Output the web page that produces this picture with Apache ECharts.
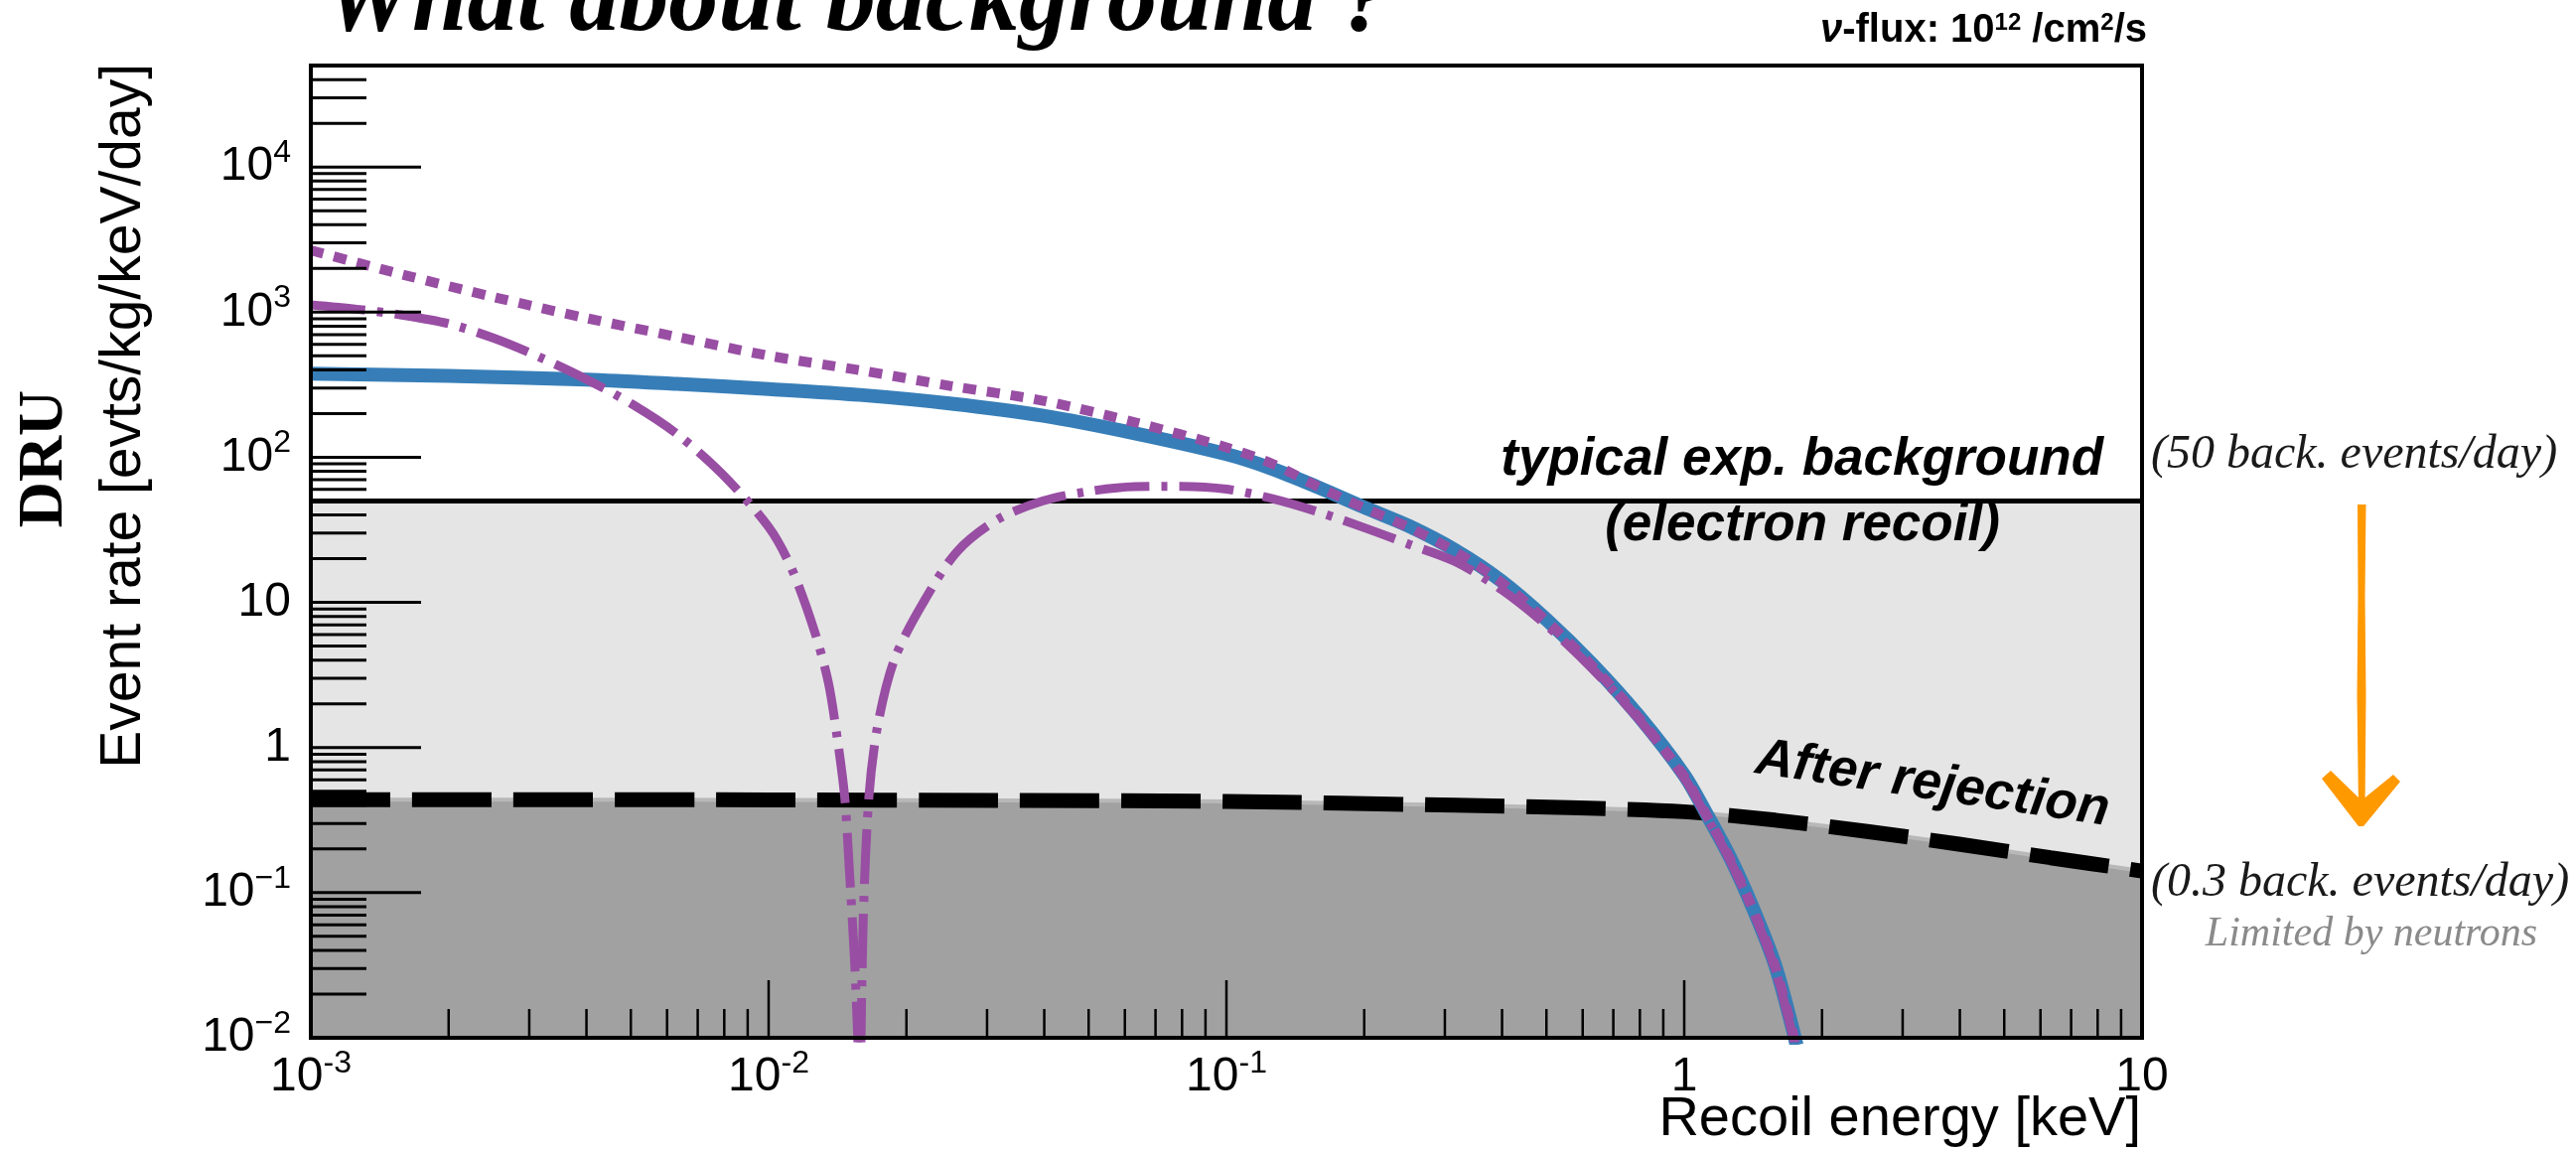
<!DOCTYPE html>
<html>
<head>
<meta charset="utf-8">
<title>What about background ?</title>
<script src="https://cdn.jsdelivr.net/npm/echarts/dist/echarts.min.js"></script>
<style>
  html, body { margin: 0; padding: 0; background: #fff; }
  #main { width: 2594px; height: 1160px; }
</style>
</head>
<body>
<div id="main"></div>
<script>
// recoil energy [keV] / event rate [evts/kg/keV/day]

// blue solid: standard spectrum
var blueE    = [0.001, 0.002, 0.004, 0.0063, 0.01, 0.0158, 0.0251, 0.0398, 0.0631, 0.1, 0.126, 0.158, 0.2, 0.251, 0.316, 0.398, 0.501, 0.631, 0.794, 1.0, 1.12, 1.26, 1.41, 1.58, 1.76];
var blueRate = [377, 363, 343, 320, 295, 269, 234, 193, 146, 105, 83.2, 62.4, 45.2, 33.5, 22.9, 14.1, 7.59, 3.72, 1.66, 0.646, 0.347, 0.174, 0.0794, 0.0316, 0.0089];

// purple dotted: total
var dotE    = [0.001, 0.00158, 0.00251, 0.00398, 0.0063, 0.01, 0.0158, 0.0251, 0.0398, 0.0631, 0.1, 0.126, 0.158, 0.2, 0.251, 0.316, 0.398, 0.501, 0.631, 0.794, 1.0, 1.12, 1.26, 1.41, 1.58, 1.76];
var dotRate = [2670, 1820, 1270, 912, 676, 501, 398, 309, 245, 174, 117, 90.2, 63.1, 44.7, 32.7, 22.4, 13.8, 7.41, 3.63, 1.62, 0.631, 0.339, 0.170, 0.0776, 0.0309, 0.0085];

// purple dash-dot: interference term, left and right of its zero
var ddLeftE    = [0.001, 0.00126, 0.00158, 0.002, 0.00251, 0.00316, 0.00398, 0.00501, 0.0063, 0.00794, 0.01, 0.0112, 0.0126, 0.0135, 0.0141, 0.01466, 0.015, 0.01542, 0.0157];
var ddLeftRate = [1122, 1047, 955, 832, 661, 490, 347, 234, 145, 75.9, 33.1, 17.4, 6.31, 2.82, 1.20, 0.457, 0.148, 0.0324, 0.0079];
var ddRightE    = [0.0159, 0.0161, 0.01656, 0.0173, 0.01884, 0.02178, 0.0258, 0.0316, 0.0398, 0.0501, 0.0631, 0.0794, 0.1, 0.126, 0.158, 0.2, 0.251, 0.316, 0.398, 0.501, 0.631, 0.794, 1.0, 1.12, 1.26, 1.41, 1.58, 1.76];
var ddRightRate = [0.0079, 0.0692, 0.457, 1.41, 4.07, 10.0, 22.4, 37.2, 50.1, 58.2, 62.8, 63.1, 60.3, 51.9, 42.2, 32.7, 25.1, 19.1, 12.3, 6.92, 3.47, 1.58, 0.617, 0.331, 0.166, 0.0759, 0.0295, 0.0081];

// backgrounds
var typicalE    = [0.001, 10];
var typicalRate = [50, 50];
var rejE    = [0.001, 0.01, 0.0316, 0.1, 0.316, 0.562, 1.0, 1.58, 2.51, 3.98, 6.31, 10];
var rejRate = [0.437, 0.436, 0.432, 0.425, 0.400, 0.385, 0.361, 0.316, 0.264, 0.216, 0.174, 0.141];

// axes
var xTickValues = [0.001, 0.01, 0.1, 1, 10];
var xTickLabels = ['10{s|-3}', '10{s|-2}', '10{s|-1}', '1', '10'];
var yTickValues = [0.01, 0.1, 1, 10, 100, 1000, 10000];
var yTickLabels = ['10{s|\u22122}', '10{s|\u22121}', '1', '10', '10{s|2}', '10{s|3}', '10{s|4}'];

var X_MIN = 0.001, X_MAX = 10, Y_MIN = 0.01, Y_MAX = 50000;

var SANS = "'Liberation Sans', Arial, Helvetica, sans-serif";
var SERIF = "'Liberation Serif', 'Times New Roman', serif";
var BLUE = '#377eb8', PURPLE = '#984ea3';

function pairs(xs, ys) {
  return xs.map(function (x, i) { return [x, ys[i]]; });
}

// minor ticks 2..9 x each decade, below limit
function minorTicks(majors, limit) {
  var out = [];
  majors.forEach(function (m) {
    for (var k = 2; k <= 9; k++) {
      var v = m * k;
      if (v < limit * 0.999) out.push(v);
    }
  });
  return out;
}

function pickLabel(values, labels, v) {
  for (var i = 0; i < values.length; i++) {
    if (Math.abs(Math.log10(v) - Math.log10(values[i])) < 1e-6) return labels[i];
  }
  return '';
}

var yTickData = yTickValues.map(function (v) { return [X_MIN, v, 1]; })
  .concat(minorTicks(yTickValues, Y_MAX).map(function (v) { return [X_MIN, v, 0]; }));
var xTickData = xTickValues.map(function (v) { return [v, Y_MIN, 1]; })
  .concat(minorTicks(xTickValues, X_MAX).map(function (v) { return [v, Y_MIN, 0]; }));

function tickSeries(data, dir) {
  return {
    type: 'custom',
    silent: true,
    clip: false,
    z: 20,
    dimensions: ['x', 'y', 'major'],
    encode: { x: 0, y: 1 },
    data: data,
    renderItem: function (params, api) {
      var p = api.coord([api.value(0), api.value(1)]);
      var major = api.value(2) === 1;
      var shape;
      if (dir === 'y') {
        var ly = major ? 111 : 56;
        shape = { x1: p[0], y1: p[1], x2: p[0] + ly, y2: p[1] };
      } else {
        var lx = major ? 58 : 29;
        shape = { x1: p[0], y1: p[1], x2: p[0], y2: p[1] - lx };
      }
      return {
        type: 'line',
        shape: shape,
        style: { stroke: '#000', lineWidth: dir === 'y' ? 3 : 2.5 }
      };
    }
  };
}

function curve(name, xs, ys, color, width, type, z) {
  return {
    name: name,
    type: 'line',
    data: pairs(xs, ys),
    symbol: 'none',
    smooth: 0.3,
    z: z,
    lineStyle: { color: color, width: width, type: type, cap: 'butt' }
  };
}

var tickLabelRich = {
  s: { fontSize: 32, lineHeight: 32, fontFamily: SANS, color: '#000', verticalAlign: 'top' }
};

var chart = echarts.init(document.getElementById('main'), null, { renderer: 'canvas' });

var option = {
  animation: false,
  backgroundColor: '#fff',
  grid: {
    left: 313, right: 437, top: 66, bottom: 115,
    show: true, borderColor: '#000', borderWidth: 4, z: 30
  },
  xAxis: {
    type: 'log', logBase: 10, min: X_MIN, max: X_MAX,
    axisLine: { show: false },
    axisTick: { show: false },
    splitLine: { show: false },
    axisLabel: {
      margin: 10,
      fontSize: 48, lineHeight: 60, fontFamily: SANS, color: '#000',
      rich: tickLabelRich,
      formatter: function (v) { return pickLabel(xTickValues, xTickLabels, v); }
    }
  },
  yAxis: {
    type: 'log', logBase: 10, min: Y_MIN, max: Y_MAX,
    axisLine: { show: false },
    axisTick: { show: false },
    splitLine: { show: false },
    axisLabel: {
      margin: 20,
      fontSize: 48, lineHeight: 60, fontFamily: SANS, color: '#000',
      rich: tickLabelRich,
      formatter: function (v) { return pickLabel(yTickValues, yTickLabels, v); }
    }
  },
  series: [
    {
      name: 'typical exp. background',
      type: 'line',
      data: pairs(typicalE, typicalRate),
      symbol: 'none',
      z: 1,
      lineStyle: { color: '#000', width: 5 },
      areaStyle: { color: '#e5e5e5', origin: 'start', opacity: 1 }
    },
    {
      name: 'after rejection fill',
      type: 'line',
      data: pairs(rejE, rejRate),
      symbol: 'none',
      smooth: 0.3,
      z: 2,
      lineStyle: { color: '#b8b8b8', width: 4 },
      areaStyle: { color: '#a1a1a1', origin: 'start', opacity: 1 }
    },
    curve('After rejection', rejE, rejRate, '#000', 15, [80, 22], 3),
    curve('standard', blueE, blueRate, BLUE, 14, 'solid', 5),
    curve('total', dotE, dotRate, PURPLE, 10, [13, 11], 6),
    curve('interference', ddLeftE, ddLeftRate, PURPLE, 9, [55, 12, 6, 12], 6),
    curve('interference', ddRightE, ddRightRate, PURPLE, 9, [55, 12, 6, 12], 6),
    tickSeries(yTickData, 'y'),
    tickSeries(xTickData, 'x')
  ],
  graphic: [
    // title, cut at the top edge like the slide
    { type: 'text', x: 326, y: 4, z: 100, silent: true,
      style: { text: 'What about background ?', fill: '#000', align: 'left', verticalAlign: 'middle',
               fontFamily: SERIF, fontSize: 100, fontWeight: 'bold', fontStyle: 'italic' } },
    { type: 'text', x: 2162, y: 31, z: 100, silent: true,
      style: { text: '{n|\u03bd}-flux: 10{s|12} /cm{s|2}/s', fill: '#000', align: 'right', verticalAlign: 'middle',
               fontFamily: SANS, fontSize: 40, fontWeight: 'bold', lineHeight: 40,
               rich: {
                 n: { fontFamily: SANS, fontSize: 40, fontWeight: 'bold', fontStyle: 'italic', fill: '#000' },
                 s: { fontFamily: SANS, fontSize: 24, fontWeight: 'bold', lineHeight: 24, verticalAlign: 'top', fill: '#000' }
               } } },
    // axis titles
    { type: 'text', x: 125, y: 64, rotation: Math.PI / 2, z: 100, silent: true,
      style: { text: 'Event rate [evts/kg/keV/day]', fill: '#000', align: 'right', verticalAlign: 'middle',
               fontFamily: SANS, fontSize: 57 } },
    { type: 'text', x: 45, y: 462, rotation: Math.PI / 2, z: 100, silent: true,
      style: { text: 'DRU', fill: '#000', align: 'center', verticalAlign: 'middle',
               fontFamily: SERIF, fontSize: 64, fontWeight: 'bold' } },
    { type: 'text', x: 2156, y: 1128, z: 100, silent: true,
      style: { text: 'Recoil energy [keV]', fill: '#000', align: 'right', verticalAlign: 'middle',
               fontFamily: SANS, fontSize: 56 } },
    // annotations inside the frame
    { type: 'text', x: 2118, y: 463, z: 100, silent: true,
      style: { text: 'typical exp. background', fill: '#000', align: 'right', verticalAlign: 'middle',
               fontFamily: SANS, fontSize: 53, fontWeight: 'bold', fontStyle: 'italic' } },
    { type: 'text', x: 1815, y: 529, z: 100, silent: true,
      style: { text: '(electron recoil)', fill: '#000', align: 'center', verticalAlign: 'middle',
               fontFamily: SANS, fontSize: 53, fontWeight: 'bold', fontStyle: 'italic' } },
    { type: 'text', x: 1946, y: 790, rotation: -8.5 * Math.PI / 180, z: 100, silent: true,
      style: { text: 'After rejection', fill: '#000', align: 'center', verticalAlign: 'middle',
               fontFamily: SANS, fontSize: 53, fontWeight: 'bold', fontStyle: 'italic' } },
    // notes right of the frame
    { type: 'text', x: 2166, y: 458, z: 100, silent: true,
      style: { text: '(50 back. events/day)', fill: '#1a1a1a', align: 'left', verticalAlign: 'middle',
               fontFamily: SERIF, fontSize: 48, fontStyle: 'italic' } },
    { type: 'text', x: 2166, y: 889, z: 100, silent: true,
      style: { text: '(0.3 back. events/day)', fill: '#1a1a1a', align: 'left', verticalAlign: 'middle',
               fontFamily: SERIF, fontSize: 48, fontStyle: 'italic' } },
    { type: 'text', x: 2388, y: 941, z: 100, silent: true,
      style: { text: 'Limited by neutrons', fill: '#8a8a8a', align: 'center', verticalAlign: 'middle',
               fontFamily: SERIF, fontSize: 42, fontStyle: 'italic' } },
    // orange hand-drawn arrow
    { type: 'polygon', z: 100, silent: true,
      shape: { points: [[2374, 508], [2374.5, 600], [2373.5, 700], [2375, 815], [2381.5, 815], [2382.5, 700], [2381.5, 600], [2382.5, 508]] },
      style: { fill: '#ff9900' } },
    { type: 'polygon', z: 100, silent: true,
      shape: { points: [[2338, 784], [2347, 776], [2378, 806], [2410, 780], [2417, 787], [2380, 832], [2375, 832]] },
      style: { fill: '#ff9900' } }
  ]
};

chart.setOption(option);
</script>
</body>
</html>
